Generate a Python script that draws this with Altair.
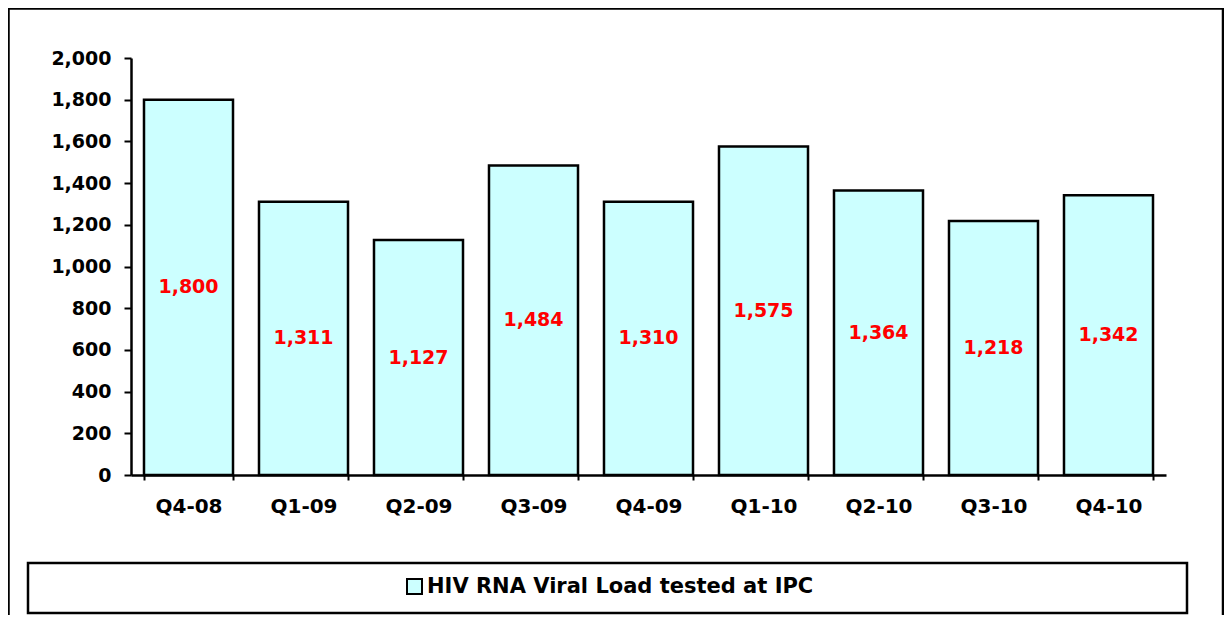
import altair as alt
import pandas as pd

quarters = ["Q4-08", "Q1-09", "Q2-09", "Q3-09", "Q4-09", "Q1-10", "Q2-10", "Q3-10", "Q4-10"]
tested = [1800, 1311, 1127, 1484, 1310, 1575, 1364, 1218, 1342]
series_name = "HIV RNA Viral Load tested at IPC"
y_ticks = [0, 200, 400, 600, 800, 1000, 1200, 1400, 1600, 1800, 2000]

df = pd.DataFrame({"quarter": quarters, "value": tested, "series": [series_name] * len(quarters)})

FONT = "DejaVu Sans"

x_enc = alt.X(
    "quarter:N",
    sort=quarters,
    scale=alt.Scale(paddingInner=0.226, paddingOuter=0.113),
    axis=alt.Axis(
        title=None,
        labelAngle=0,
        labelFont=FONT,
        labelFontSize=20,
        labelFontWeight="bold",
        labelColor="black",
        labelPadding=16,
        domainColor="black",
        domainWidth=2.5,
        tickColor="black",
        tickWidth=2,
        tickSize=5,
        tickBand="extent",
        grid=False,
    ),
)

y_scale = alt.Scale(domain=[0, 2000], nice=False)

bars = alt.Chart(df).mark_bar(stroke="black", strokeWidth=2.5).encode(
    x=x_enc,
    y=alt.Y(
        "value:Q",
        scale=y_scale,
        axis=alt.Axis(
            title=None,
            values=y_ticks,
            format=",d",
            labelFont=FONT,
            labelFontSize=19,
            labelFontWeight="bold",
            labelColor="black",
            labelPadding=13,
            domainColor="black",
            domainWidth=2.5,
            tickColor="black",
            tickWidth=2,
            tickSize=7,
            grid=False,
        ),
    ),
    color=alt.Color(
        "series:N",
        scale=alt.Scale(range=["#CCFFFF"]),
        legend=alt.Legend(
            title=None,
            orient="none",
            legendX=273,
            legendY=518,
            direction="horizontal",
            symbolType="square",
            symbolSize=225,
            symbolStrokeColor="black",
            symbolStrokeWidth=2,
            labelFont=FONT,
            labelFontSize=21,
            labelFontWeight="bold",
            labelColor="black",
            labelLimit=0,
            labelOffset=2,
            padding=0,
        ),
    ),
)

labels = alt.Chart(df).transform_calculate(mid="datum.value / 2").mark_text(
    font=FONT, fontSize=19, fontWeight="bold", color="#FF0000", baseline="middle", align="center"
).encode(
    x=alt.X("quarter:N", sort=quarters),
    y=alt.Y("mid:Q", scale=y_scale),
    text=alt.Text("value:Q", format=",d"),
)

one = alt.Data(values=[{"k": 1}])

frame = alt.Chart(one).mark_rect(fill=None, fillOpacity=0, stroke="black", strokeWidth=2.5).encode(
    x=alt.value(-122.5), x2=alt.value(1092), y=alt.value(-49.5), y2=alt.value(600)
)

legend_box = alt.Chart(one).mark_rect(fill="white", stroke="black", strokeWidth=2.5).encode(
    x=alt.value(-103), x2=alt.value(1056), y=alt.value(505), y2=alt.value(555)
)

chart = alt.layer(frame, legend_box, bars, labels).properties(
    width=1035,
    height=417,
    autosize=alt.AutoSizeParams(type="none"),
    padding={"left": 123, "top": 50, "right": 58, "bottom": 140},
    background="white",
).configure_view(stroke=None)

chart.save("out.html", embed_options={"renderer": "svg", "actions": False})
